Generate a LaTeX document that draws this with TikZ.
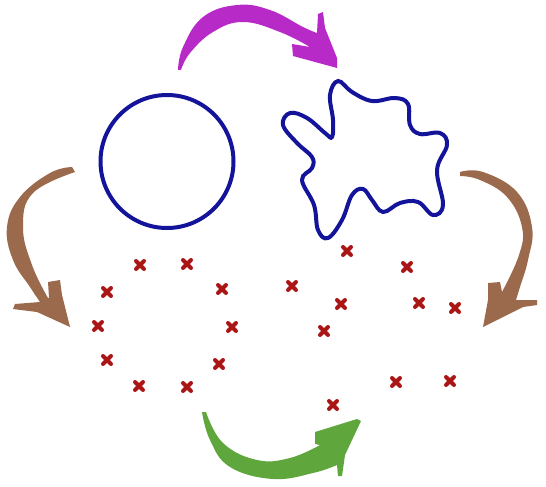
\documentclass[tikz,border=0pt]{standalone}
\usetikzlibrary{shapes.misc}
\definecolor{purp}{RGB}{184,42,200}
\definecolor{brn}{RGB}{155,105,75}
\definecolor{grn}{RGB}{95,167,60}
\definecolor{dblue}{RGB}{20,20,155}
\definecolor{xred}{RGB}{170,22,22}
\tikzset{
  xstroke/.style={draw=xred, line width=4pt, line cap=round},
  xm/.pic={\draw[xstroke] (-4,-4) -- (4,4) (-4,4) -- (4,-4);},
  shapeline/.style={draw=dblue, line width=4pt},
}
\begin{document}
\begin{tikzpicture}[x=1pt,y=-1pt]
\useasboundingbox (0,0) rectangle (546,487);
% circle
\node[circle, shapeline, minimum size=133pt, inner sep=0pt] (circ) at (167,161.5) {};
% blob
\draw[shapeline] plot[smooth cycle, tension=0.65] coordinates {
 (338,81) (352,92) (372,101) (395,98) (408,104) (410,125) (420,134) (440,133)
 (447,145) (437,170) (443,205) (433,215) (418,202) (400,203) (383,212) (372,200)
 (363,189) (352,195) (342,220) (328,238) (318,230) (314,205) (302,180) (312,168)
 (312,157) (297,143) (283,125) (290,113) (307,118) (325,133) (332,137) (333,120) (330,95)};
% purple arrow
\fill[purp] plot[smooth, tension=0.7] coordinates {(178,70) (183,47) (203,17) (237,5) (270,10) (303,27) (317,33)}
 -- (318,14) -- (323,12) -- (325,28) -- (337,58) -- (337,68) -- (293,56) -- (292,44) -- (310,47)
 -- plot[smooth, tension=0.7] coordinates {(310,47) (280,32) (243,22) (213,32) (190,53) (181,70)} -- cycle;
% left brown arrow
\fill[brn] plot[smooth, tension=0.7] coordinates {(72,167) (50,173) (20,197) (7,227) (13,260) (30,287) (40,302)}
 -- (15,304) -- (13,309) -- (37,312) -- (70,327) -- (62,295) -- (60,280) -- (48,282) -- (49,298)
 -- plot[smooth, tension=0.7] coordinates {(48,298) (32,265) (23,227) (33,193) (75,172)} -- cycle;
% right brown arrow
\fill[brn] plot[smooth, tension=0.7] coordinates {(460,172) (483,172) (517,192) (532,227) (528,260) (520,287) (516,300)}
 -- (537,300) -- (537,305) -- (523,307) -- (483,327) -- (488,300) -- (488,283) -- (500,282) -- (502,292)
 -- plot[smooth, tension=0.7] coordinates {(502,292) (519,255) (522,227) (507,197) (480,180) (460,176)} -- cycle;
% green arrow
\fill[grn] plot[smooth, tension=0.7] coordinates {(202,412) (210,440) (230,467) (273,479) (313,473) (337,465)}
 -- (338,476) -- (342,476) -- (345,455) -- (361,421) -- (357,419) -- (315,432) -- (315,444) -- (320,445)
 -- plot[smooth, tension=0.7] coordinates {(320,445) (290,458) (257,460) (223,443) (206,412)} -- cycle;
% crosses left
\foreach \p in {(140,265),(187,264),(107,292),(222,289),(98,326),
                (232,327),(107,360),(219,364),(139,386),(187,387)}
  \pic at \p {xm};
% crosses right
\foreach \p in {(347,251),(407,267),(292,286),(341,304),(419,303),
                (455,308),(324,331),(396,382),(450,381),(333,405)}
  \pic at \p {xm};
\end{tikzpicture}
\end{document}
